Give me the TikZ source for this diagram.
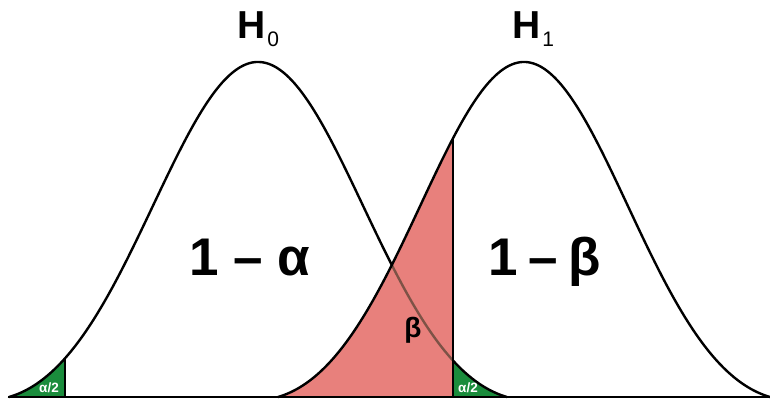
\documentclass[tikz,border=0pt]{standalone}
\usepackage{fontspec}
\setmainfont{Liberation Sans}
\definecolor{redfill}{RGB}{232,128,124}
\definecolor{greenfill}{RGB}{26,140,60}
\definecolor{brownline}{RGB}{125,82,70}
\begin{document}
\begin{tikzpicture}[x=1pt,y=1pt,
  declare function={
    bell(\u)=0.75*(exp(-(\u)*(\u)/0.32)-0.0439)/0.9561+0.25*(1+cos(180*(\u)))/2;
    hzero(\t)=3+335*bell((\t-258)/249);
    hone(\t)=3+335*bell((\t-524)/246);
  },
  curve/.style={line width=2.4pt, line join=round, line cap=round},
  bigtext/.style={inner sep=0pt, font=\fontsize{53}{53}\selectfont\bfseries},
  hyp/.style={inner sep=0pt, anchor=base west},
  tail/.style={inner sep=0pt, anchor=base, text=white, font=\fontsize{13.5}{13.5}\selectfont\bfseries}
]
\useasboundingbox (0,0) rectangle (770,400);

% filled areas
\fill[redfill] (278,3) -- plot[domain=278:453,samples=90] (\x,{hone(\x)}) -- (453,3) -- cycle;
\fill[greenfill] (9,3) -- plot[domain=9:65,samples=30] (\x,{hzero(\x)}) -- (65,3) -- cycle;
\fill[greenfill] (453,3) -- plot[domain=453:507,samples=30] (\x,{hzero(\x)}) -- (507,3) -- cycle;

% baseline
\draw[line width=2pt] (8,3) -- (770,3);

% H0 curve
\draw[curve] plot[domain=9:391.8,samples=150] (\x,{hzero(\x)});
\draw[curve, brownline] plot[domain=391.8:453,samples=40] (\x,{hzero(\x)});
\draw[curve] plot[domain=453:507,samples=30] (\x,{hzero(\x)});

% H1 curve
\draw[curve] plot[domain=278:770,samples=180] (\x,{hone(\x)});

% critical lines
\draw[line width=2.4pt] (453,3) -- (453,{hone(453)});
\draw[line width=2pt] (65,3) -- (65,{hzero(65)});

% labels
\node[hyp] (hzero) at (237,362) {{\fontsize{39}{39}\selectfont\bfseries H}\kern2pt{\fontsize{21}{21}\selectfont\raisebox{-9pt}{0}}};
\node[hyp] (hone) at (512,362) {{\fontsize{39}{39}\selectfont\bfseries H}\kern2pt{\fontsize{21}{21}\selectfont\raisebox{-9pt}{1}}};
\node[bigtext, anchor=base] (oneminusalpha) at (250,125) {1 – α};
\node[bigtext, anchor=base] (oneminusbeta) at (545,125) {1\kern-4pt{} – \kern-4pt{}β};
\node[inner sep=0pt, anchor=base, font=\fontsize{28}{28}\selectfont\bfseries] (beta) at (413,63) {β};
\node[tail] (alphaleft) at (49,8) {α/2};
\node[tail] (alpharight) at (468,8) {α/2};
\end{tikzpicture}
\end{document}
